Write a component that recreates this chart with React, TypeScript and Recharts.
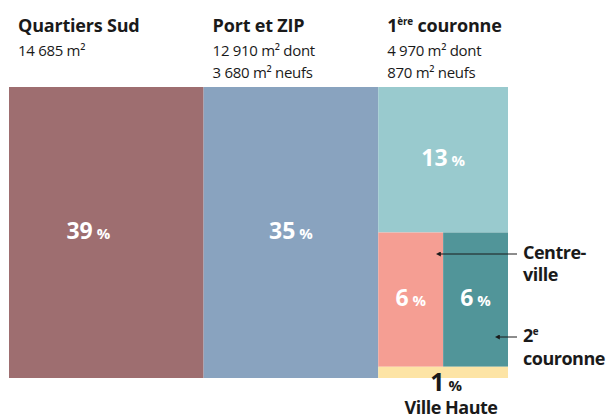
import { ComposedChart, XAxis, YAxis, ReferenceArea, Scatter } from "recharts";

const zones = ["Quartiers Sud", "Port et ZIP", "1ère couronne"];
const zoneShares = [39, 35, 26];
const zoneAreas = ["14 685", "12 910", "4 970"];
const zoneNewAreas = ["", "3 680", "870"];
const zoneColors = ["#9e6e70", "#89a3bf", "#99cace"];

// the last zone is split further: band 0 on top, band 1 in the middle, band 2 at the bottom
const subZones = ["1ère couronne", "Centre-ville", "2e couronne", "Ville Haute"];
const subShares = [13, 6, 6, 1];
const subBands = [0, 1, 1, 2];
const subColors = ["#99cace", "#f59e93", "#519599", "#fde4a5"];

const FONT = "'Open Sans', Lato, sans-serif";
const INK = "#1a1a1a";

// the big label in the first block sits a bit left of centre in the original
const labelShift: Record<string, number> = { "Quartiers Sud": -18 };

type Cell = {
  name: string;
  share: number;
  fill: string;
  x1: number;
  x2: number;
  y1: number;
  y2: number;
  cx: number;
  cy: number;
};

const cells: Cell[] = [];
const columns: { x1: number; x2: number }[] = [];
let xStart = 0;
zoneShares.forEach((share, i) => {
  const xEnd = xStart + share;
  columns.push({ x1: xStart, x2: xEnd });
  if (i < zoneShares.length - 1) {
    cells.push({
      name: zones[i],
      share,
      fill: zoneColors[i],
      x1: xStart,
      x2: xEnd,
      y1: 0,
      y2: 100,
      cx: (xStart + xEnd) / 2,
      cy: 50,
    });
  } else {
    const bandIds = Array.from(new Set(subBands));
    let yStart = 0;
    bandIds.forEach((b) => {
      const members = subShares.map((s, j) => j).filter((j) => subBands[j] === b);
      const bandTotal = members.reduce((acc, j) => acc + subShares[j], 0);
      const yEnd = yStart + (bandTotal / share) * 100;
      let bx = xStart;
      members.forEach((j) => {
        const w = (subShares[j] / bandTotal) * share;
        cells.push({
          name: subZones[j],
          share: subShares[j],
          fill: subColors[j],
          x1: bx,
          x2: bx + w,
          y1: yStart,
          y2: yEnd,
          cx: bx + w / 2,
          cy: (yStart + yEnd) / 2,
        });
        bx += w;
      });
      yStart = yEnd;
    });
  }
  xStart = xEnd;
});

function withSup(text: string, size: number) {
  const m = text.match(/^(\d)(ère|e)(.*)$/);
  if (!m) return text;
  return (
    <>
      {m[1]}
      <tspan fontSize={size * 0.55} dy={-size * 0.4}>
        {m[2]}
      </tspan>
      <tspan dy={size * 0.4}>{m[3]}</tspan>
    </>
  );
}

function CellLabel(props: any) {
  const { viewBox, share, name } = props;
  const { x, y, width, height } = viewBox;
  const cx = x + width / 2 + (labelShift[name] || 0);
  if (height < 20) {
    return (
      <text x={cx + 3} y={y + height + 13} textAnchor="middle" fontFamily={FONT} fontWeight={700} fill={INK}>
        <tspan fontSize={25}>{share}</tspan>
        <tspan fontSize={15}> %</tspan>
      </text>
    );
  }
  return (
    <text x={cx} y={y + height / 2 + 6} textAnchor="middle" fontFamily={FONT} fontWeight={700} fill="#ffffff">
      <tspan fontSize={23}>{share}</tspan>
      <tspan fontSize={15}> %</tspan>
    </text>
  );
}

function ZoneHeader(props: any) {
  const { viewBox, index } = props;
  const { x, y } = viewBox;
  const tx = x + 9;
  const area = zoneAreas[index];
  const extra = zoneNewAreas[index];
  return (
    <g fontFamily={FONT} fill={INK}>
      <text x={tx} y={y - 55} fontSize={18} fontWeight={700} letterSpacing={-0.2}>
        {withSup(zones[index], 18)}
      </text>
      <text x={tx} y={y - 31} fontSize={15} letterSpacing={-0.3}>
        {area} m²{extra ? " dont" : ""}
      </text>
      {extra ? (
        <text x={tx} y={y - 9} fontSize={15} letterSpacing={-0.3}>
          {extra} m² neufs
        </text>
      ) : null}
    </g>
  );
}

function Callouts() {
  return (
    <svg
      width={611}
      height={419}
      style={{ position: "absolute", left: 0, top: 0, pointerEvents: "none" }}
      fontFamily={FONT}
    >
      <defs>
        <marker id="head" viewBox="0 0 6 6" refX="1" refY="3" markerWidth="5" markerHeight="5" orient="auto-start-reverse">
          <path d="M0,0 L6,3 L0,6 z" fill={INK} />
        </marker>
      </defs>
      <line x1={517} y1={254} x2={440} y2={254} stroke={INK} strokeWidth={1} markerEnd="url(#head)" />
      <line x1={517} y1={337} x2={499} y2={337} stroke={INK} strokeWidth={1} markerEnd="url(#head)" />
      <g fontSize={18} fontWeight={700} fill={INK} letterSpacing={-0.5}>
        <text x={523} y={259}>Centre-</text>
        <text x={523} y={281}>ville</text>
        <text x={523} y={342}>{withSup(subZones[2].split(" ")[0], 18)}</text>
        <text x={523} y={365}>{subZones[2].split(" ")[1]}</text>
        <text x={451} y={414} textAnchor="middle">
          {subZones[3]}
        </text>
      </g>
    </svg>
  );
}

export default function App() {
  return (
    <div style={{ position: "absolute", left: 0, top: 0, width: 611, height: 419, background: "#fff" }}>
      <ComposedChart width={611} height={419} margin={{ top: 87, right: 103, bottom: 41, left: 9 }} data={cells}>
        <XAxis type="number" dataKey="cx" domain={[0, 100]} hide />
        <YAxis type="number" dataKey="cy" domain={[0, 100]} reversed hide />
        {cells.map((c, i) => (
          <ReferenceArea
            key={`cell-${i}`}
            x1={c.x1}
            x2={c.x2}
            y1={c.y1}
            y2={c.y2}
            fill={c.fill}
            fillOpacity={1}
            stroke="none"
            ifOverflow="visible"
            label={<CellLabel share={c.share} name={c.name} />}
          />
        ))}
        {columns.map((col, i) => (
          <ReferenceArea
            key={`col-${i}`}
            x1={col.x1}
            x2={col.x2}
            y1={0}
            y2={100}
            fill="none"
            fillOpacity={0}
            stroke="none"
            ifOverflow="visible"
            label={<ZoneHeader index={i} />}
          />
        ))}
        <Scatter data={cells} dataKey="cy" shape={() => null} isAnimationActive={false} />
      </ComposedChart>
      <Callouts />
    </div>
  );
}
